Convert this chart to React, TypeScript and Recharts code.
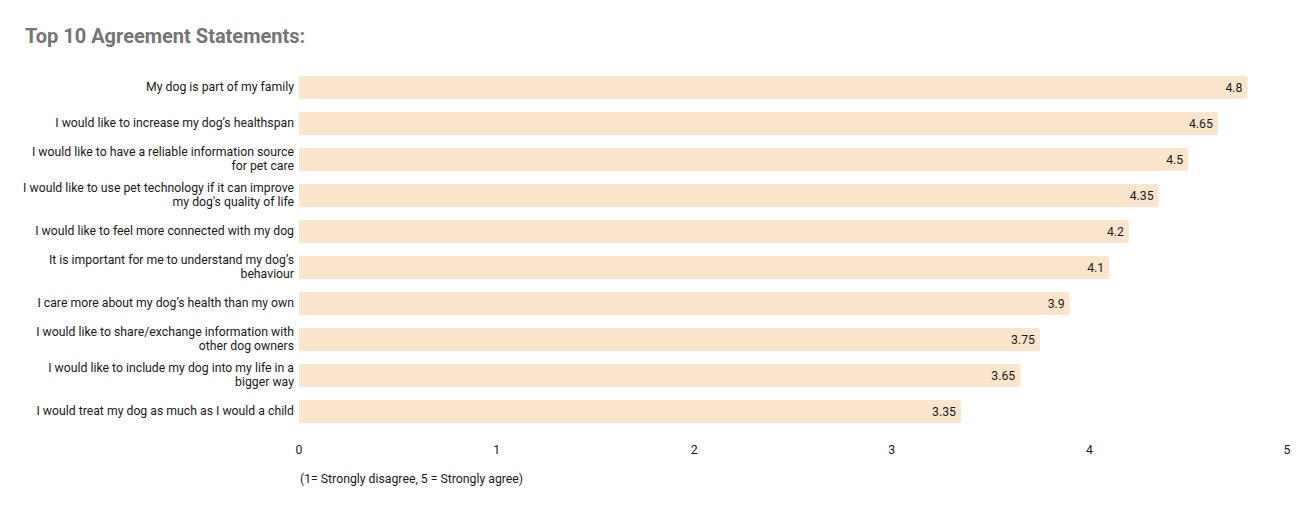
import { BarChart, Bar, XAxis, YAxis, LabelList } from "recharts";

const statements = [
  "My dog is part of my family",
  "I would like to increase my dog’s healthspan",
  "I would like to have a reliable information source\nfor pet care",
  "I would like to use pet technology if it can improve\nmy dog's quality of life",
  "I would like to feel more connected with my dog",
  "It is important for me to understand my dog’s\nbehaviour",
  "I care more about my dog’s health than my own",
  "I would like to share/exchange information with\nother dog owners",
  "I would like to include my dog into my life in a\nbigger way",
  "I would treat my dog as much as I would a child",
];

const scores = [4.8, 4.65, 4.5, 4.35, 4.2, 4.1, 3.9, 3.75, 3.65, 3.35];

const xTicks = [0, 1, 2, 3, 4, 5];

const data = statements.map((name, i) => ({ name, score: scores[i] }));

const FONT = "Roboto, 'Noto Sans', sans-serif";
const TEXT_SIZE = 12.25;

function StatementTick({ x, y, payload }: any) {
  const lines = String(payload.value).split("\n");
  const first = y - (lines.length - 1) * 7 + 4;
  return (
    <text x={x} y={first} textAnchor="end" fontSize={TEXT_SIZE} fill="#1a1a1a" fontFamily={FONT}>
      {lines.map((l, i) => (
        <tspan key={i} x={x} y={first + i * 14}>
          {l}
        </tspan>
      ))}
    </text>
  );
}

function ScoreTick({ x, y, payload }: any) {
  return (
    <text x={x} y={y + 25} textAnchor="middle" fontSize={TEXT_SIZE} fill="#1a1a1a" fontFamily={FONT}>
      {payload.value}
    </text>
  );
}

export default function App() {
  return (
    <div
      style={{
        position: "absolute",
        left: 0,
        top: 0,
        width: 1313,
        height: 509,
        background: "#fff",
        fontFamily: FONT,
      }}
    >
      <div
        style={{
          position: "absolute",
          left: 25,
          top: 24,
          fontSize: 20,
          fontWeight: 700,
          color: "#757575",
        }}
      >
        Top 10 Agreement Statements:
      </div>
      <BarChart
        width={1313}
        height={509}
        data={data}
        layout="vertical"
        margin={{ top: 69, right: 26, bottom: 20, left: 0 }}
        barSize={23}
      >
        <XAxis
          type="number"
          domain={[0, 5]}
          ticks={xTicks}
          axisLine={false}
          tickLine={false}
          tickSize={0}
          tickMargin={0}
          height={60}
          tick={<ScoreTick />}
          interval={0}
        />
        <YAxis
          type="category"
          dataKey="name"
          width={299}
          axisLine={false}
          tickLine={false}
          tickSize={0}
          tickMargin={5}
          tick={<StatementTick />}
          interval={0}
        />
        <Bar dataKey="score" fill="#fce5cd" radius={[0, 2, 2, 0]} isAnimationActive={false}>
          <LabelList
            dataKey="score"
            position="insideRight"
            offset={5}
            fill="#1a1a1a"
            fontSize={TEXT_SIZE}
            fontFamily={FONT}
          />
        </Bar>
      </BarChart>
      <div
        style={{
          position: "absolute",
          left: 300,
          top: 472,
          fontSize: TEXT_SIZE,
          color: "#1a1a1a",
        }}
      >
        (1= Strongly disagree, 5 = Strongly agree)
      </div>
    </div>
  );
}
